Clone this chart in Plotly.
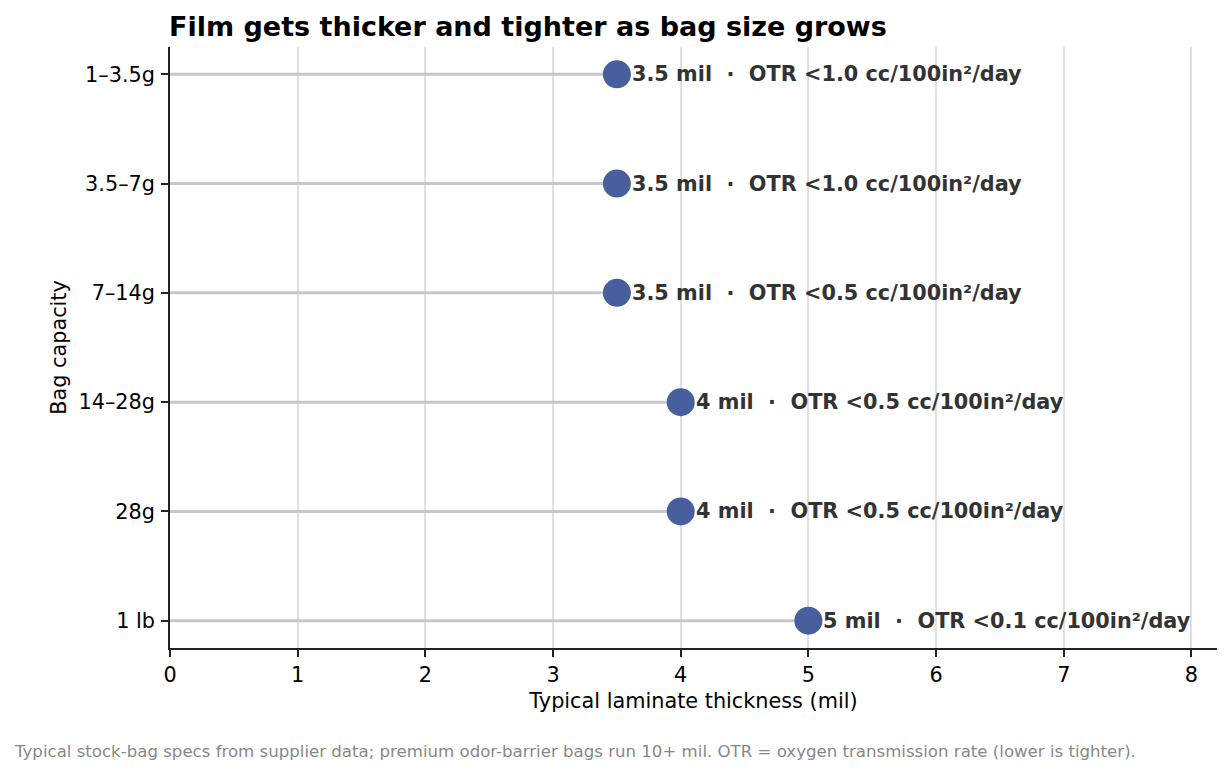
import plotly.graph_objects as go

categories = ["1–3.5g", "3.5–7g", "7–14g", "14–28g", "28g", "1 lb"]
thickness_mil = [3.5, 3.5, 3.5, 4, 4, 5]
otr_labels = ["<1.0", "<1.0", "<0.5", "<0.5", "<0.5", "<0.1"]
x_ticks = [0, 1, 2, 3, 4, 5, 6, 7, 8]

FONT = "DejaVu Sans"
MARKER = "#475f9c"

# figure is offset 8px by the page body margin
W, H = 1223, 768
ML, MR, MT, MB = 162, 14, 39, 128
PW, PH = W - ML - MR, H - MT - MB

fig = go.Figure()

stem_x, stem_y = [], []
for c, v in zip(categories, thickness_mil):
    stem_x += [0, v, None]
    stem_y += [c, c, None]
fig.add_trace(go.Scatter(x=stem_x, y=stem_y, mode="lines",
                         line=dict(color="#c8c8c8", width=3),
                         hoverinfo="skip", showlegend=False))
fig.add_trace(go.Scatter(x=thickness_mil, y=categories, mode="markers",
                         marker=dict(color=MARKER, size=28, line=dict(width=0)),
                         showlegend=False))

for c, v, o in zip(categories, thickness_mil, otr_labels):
    vt = f"{v:g}"
    fig.add_annotation(x=v, y=c, xref="x", yref="y",
                       text=f"<b>{vt} mil  ·  OTR {o} cc/100in²/day</b>",
                       showarrow=False, xanchor="left", yanchor="middle",
                       xshift=13, font=dict(family=FONT, size=20.8, color="#333333"))

fig.add_annotation(x=0, y=1, xref="paper", yref="paper",
                   text="<b>Film gets thicker and tighter as bag size grows</b>",
                   showarrow=False, xanchor="left", yanchor="bottom", yshift=3, xshift=-3,
                   font=dict(family=FONT, size=27, color="#000000"))
fig.add_annotation(x=(4 - ML) / PW, y=(H - MB - 743) / PH, xref="paper", yref="paper",
                   text="Typical stock-bag specs from supplier data; premium odor-barrier bags run 10+ mil. OTR = oxygen transmission rate (lower is tighter).",
                   showarrow=False, xanchor="left", yanchor="middle",
                   font=dict(family=FONT, size=16.6, color="#888888"))

fig.update_layout(
    width=W, height=H,
    margin=dict(l=ML, r=MR, t=MT, b=MB, autoexpand=False),
    paper_bgcolor="white", plot_bgcolor="white",
    font=dict(family=FONT, size=20.8, color="#000000"),
    xaxis=dict(range=[0, 8.2], tickvals=x_ticks, showgrid=True, gridcolor="#e0e0e0",
               gridwidth=1.5, zeroline=False, showline=True, linecolor="#222222",
               linewidth=1.7, ticks="outside", ticklen=7, tickwidth=1.7, tickcolor="#222222",
               tickfont=dict(size=20.8),
               title=dict(text="Typical laminate thickness (mil)", font=dict(size=20.8), standoff=8)),
    yaxis=dict(categoryorder="array", categoryarray=categories,
               range=[5.25, -0.25], showgrid=False, zeroline=False, showline=True,
               linecolor="#222222", linewidth=1.7, ticks="outside", ticklen=7, tickwidth=1.7,
               tickcolor="#222222", tickfont=dict(size=20.8), ticklabelstandoff=2,
               title=dict(text="Bag capacity", font=dict(size=20.8), standoff=6)),
)

fig.write_html("out.html")
